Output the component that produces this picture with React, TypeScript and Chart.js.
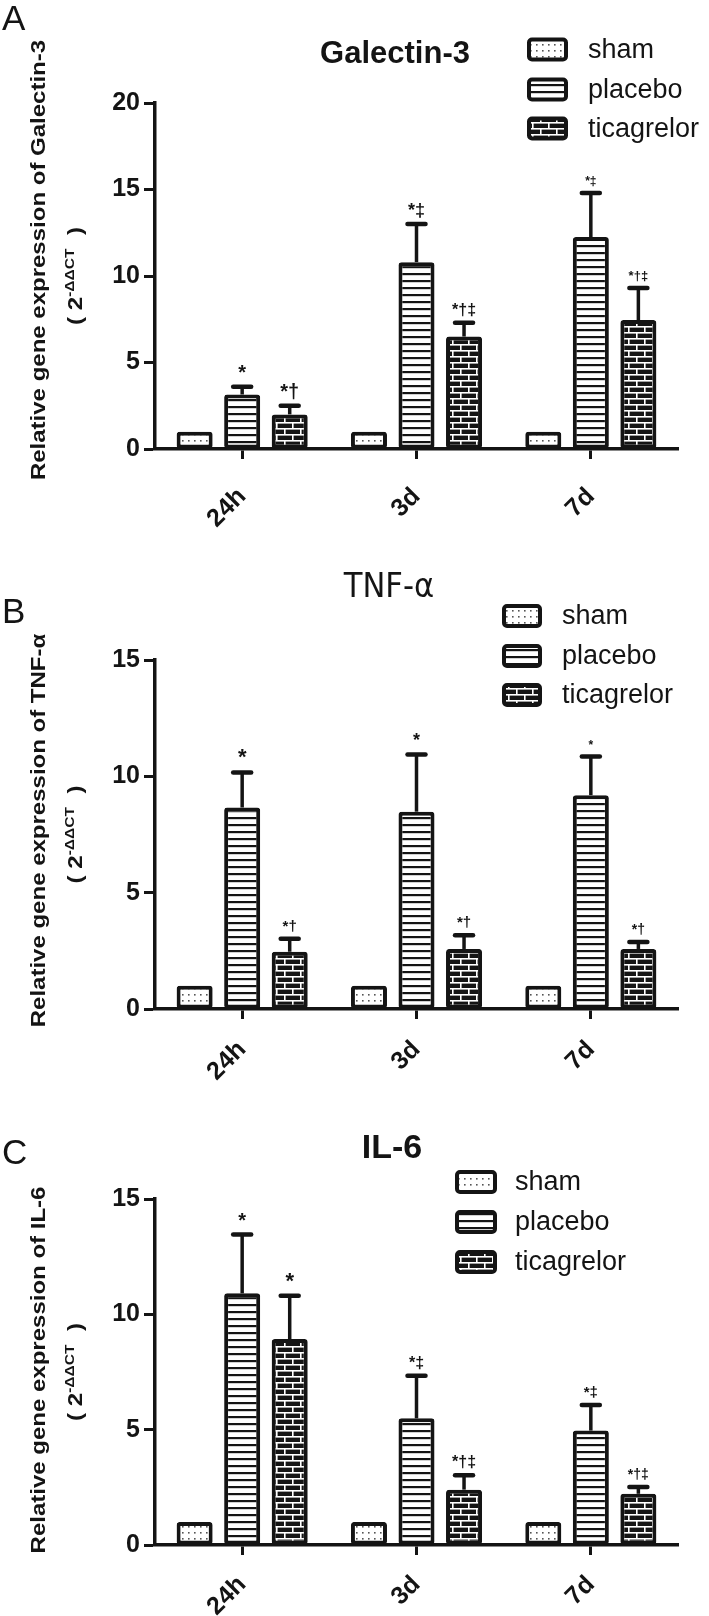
import React, { useEffect, useRef } from 'react';
import { Chart, registerables } from 'chart.js';

Chart.register(...registerables);

const FONT = '"Liberation Sans", Arial, Helvetica, sans-serif';
const NARROW = '"Liberation Sans Narrow", "Arial Narrow", "DejaVu Sans Condensed", "Liberation Sans", sans-serif';
const INK = '#141414';

// ---------- data ----------
const categories = ['24h', '3d', '7d'];
const seriesNames = ['sham', 'placebo', 'ticagrelor'];

// Galectin-3
const galectinSham = [1, 1, 1];
const galectinPlacebo = [3.15, 10.8, 12.25];
const galectinTicagrelor = [2.0, 6.5, 7.45];
const galectinPlaceboErr = [0.45, 2.2, 2.55];
const galectinTicagrelorErr = [0.5, 0.8, 1.85];
const galectinPlaceboMarks = ['*', '*‡', '*‡'];
const galectinTicagrelorMarks = ['*†', '*†‡', '*†‡'];

// TNF-α
const tnfSham = [1, 1, 1];
const tnfPlacebo = [8.66, 8.48, 9.19];
const tnfTicagrelor = [2.46, 2.58, 2.58];
const tnfPlaceboErr = [1.51, 2.46, 1.66];
const tnfTicagrelorErr = [0.56, 0.59, 0.3];
const tnfPlaceboMarks = ['*', '*', '*'];
const tnfTicagrelorMarks = ['*†', '*†', '*†'];

// IL-6
const il6Sham = [1, 1, 1];
const il6Placebo = [10.91, 5.49, 4.96];
const il6Ticagrelor = [8.93, 2.4, 2.22];
const il6PlaceboErr = [2.55, 1.85, 1.11];
const il6TicagrelorErr = [1.88, 0.62, 0.29];
const il6PlaceboMarks = ['*', '*‡', '*‡'];
const il6TicagrelorMarks = ['*', '*†‡', '*†‡'];

const galectinTicks = [0, 5, 10, 15, 20];
const cytokineTicks = [0, 5, 10, 15];

// ---------- panel layout / style ----------
const panels = [
  {
    top: 0, height: 540, padTop: 103, plotBottom: 449,
    ticks: galectinTicks,
    letter: 'A', letterBaseline: 30,
    title: 'Galectin-3', titleFont: `bold 31px ${FONT}`, titleX: 395, titleBaseline: 63,
    legendX: 527, legendW: 41, legendTextX: 588, legendRows: [49.5, 89.5, 128.5],
    yTitle: 'Relative gene expression of Galectin-3', yTitleShift: -16,
    labelPad: 23,
    series: [galectinSham, galectinPlacebo, galectinTicagrelor],
    errors: [null, galectinPlaceboErr, galectinTicagrelorErr],
    marks: [null, galectinPlaceboMarks, galectinTicagrelorMarks],
    markSizes: [null, [20, 18, 12], [20, 16, 13]],
  },
  {
    top: 530, height: 575, padTop: 130, plotBottom: 479,
    ticks: cytokineTicks,
    letter: 'B', letterBaseline: 93,
    title: 'TNF-α', titleFont: `34px ${NARROW}`, titleX: 389, titleBaseline: 67,
    legendX: 502, legendW: 40, legendTextX: 562, legendRows: [86, 126, 165],
    yTitle: 'Relative gene expression of TNF-α', yTitleShift: -4,
    labelPad: 16,
    series: [tnfSham, tnfPlacebo, tnfTicagrelor],
    errors: [null, tnfPlaceboErr, tnfTicagrelorErr],
    marks: [null, tnfPlaceboMarks, tnfTicagrelorMarks],
    markSizes: [null, [22, 18, 12], [15, 15, 14]],
  },
  {
    top: 1080, height: 536, padTop: 119, plotBottom: 465,
    ticks: cytokineTicks,
    letter: 'C', letterBaseline: 84,
    title: 'IL-6', titleFont: `bold 34px ${FONT}`, titleX: 392, titleBaseline: 78,
    legendX: 455, legendW: 42, legendTextX: 515, legendRows: [102, 142, 182],
    yTitle: 'Relative gene expression of IL-6', yTitleShift: -2,
    labelPad: 15,
    series: [il6Sham, il6Placebo, il6Ticagrelor],
    errors: [null, il6PlaceboErr, il6TicagrelorErr],
    marks: [null, il6PlaceboMarks, il6TicagrelorMarks],
    markSizes: [null, [20, 16, 15], [22, 16, 14]],
  },
];

// ---------- fill patterns ----------
function makePattern(kind: string): CanvasPattern | string {
  const c = document.createElement('canvas');
  const g = c.getContext('2d');
  if (!g) return '#fff';
  if (kind === 'dots') {
    c.width = 6; c.height = 6;
    g.fillStyle = '#fff'; g.fillRect(0, 0, 6, 6);
    g.fillStyle = '#555'; g.fillRect(2, 2, 1.6, 1.6);
  } else if (kind === 'stripes') {
    c.width = 8; c.height = 7;
    g.fillStyle = '#fff'; g.fillRect(0, 0, 8, 7);
    g.fillStyle = INK; g.fillRect(0, 0, 8, 2.2);
  } else {
    c.width = 16; c.height = 12;
    g.fillStyle = INK; g.fillRect(0, 0, 16, 12);
    g.fillStyle = '#fff';
    g.fillRect(0, 2, 16, 1.6);
    g.fillRect(0, 8, 16, 1.6);
    g.fillRect(4, 2, 1.6, 6);
    g.fillRect(12, 8, 1.6, 6);
    g.fillRect(12, 0, 1.6, 2);
  }
  return g.createPattern(c, 'repeat') || '#fff';
}

function Panel({ cfg }: { cfg: any }) {
  const ref = useRef<HTMLCanvasElement | null>(null);
  useEffect(() => {
    const canvas = ref.current;
    if (!canvas) return;
    const fills = [makePattern('dots'), makePattern('stripes'), makePattern('bricks')];

    const decor = {
      id: 'decor',
      afterDatasetsDraw(chart: any) {
        const ctx = chart.ctx as CanvasRenderingContext2D;
        const y = chart.scales.y;
        ctx.save();
        ctx.strokeStyle = INK;
        ctx.fillStyle = INK;
        for (let d = 1; d < 3; d++) {
          const meta = chart.getDatasetMeta(d);
          meta.data.forEach((el: any, i: number) => {
            const v = cfg.series[d][i];
            const e = cfg.errors[d][i];
            const yTop = y.getPixelForValue(v + e);
            ctx.lineCap = 'butt';
            ctx.lineWidth = 3.5;
            ctx.beginPath();
            ctx.moveTo(el.x, el.y);
            ctx.lineTo(el.x, yTop);
            ctx.stroke();
            ctx.lineCap = 'round';
            ctx.lineWidth = 4.5;
            ctx.beginPath();
            ctx.moveTo(el.x - 9, yTop);
            ctx.lineTo(el.x + 9, yTop);
            ctx.stroke();
            const size = cfg.markSizes[d][i];
            ctx.font = `bold ${size}px ${FONT}`;
            ctx.textAlign = 'center';
            ctx.textBaseline = 'alphabetic';
            ctx.fillText(cfg.marks[d][i], el.x, yTop - 8);
          });
        }
        ctx.restore();
      },
      afterDraw(chart: any) {
        const ctx = chart.ctx as CanvasRenderingContext2D;
        const area = chart.chartArea;
        ctx.save();
        ctx.fillStyle = INK;
        // panel letter
        ctx.font = `35px ${FONT}`;
        ctx.textAlign = 'left';
        ctx.textBaseline = 'alphabetic';
        ctx.fillText(cfg.letter, 2, cfg.letterBaseline);
        // title
        ctx.font = cfg.titleFont;
        ctx.textAlign = 'center';
        ctx.fillText(cfg.title, cfg.titleX, cfg.titleBaseline);
        // legend
        seriesNames.forEach((name, i) => {
          const cy = cfg.legendRows[i];
          const x = cfg.legendX;
          const w = cfg.legendW;
          const h = 24;
          ctx.fillStyle = fills[i] as any;
          ctx.beginPath();
          (ctx as any).roundRect(x + 2, cy - h / 2 + 2, w - 4, h - 4, 3);
          ctx.fill();
          ctx.lineWidth = 4;
          ctx.strokeStyle = INK;
          ctx.stroke();
          ctx.fillStyle = INK;
          ctx.font = `27px ${FONT}`;
          ctx.textAlign = 'left';
          ctx.textBaseline = 'middle';
          ctx.fillText(name, cfg.legendTextX, cy + 1);
        });
        // y-axis title (two lines, rotated)
        const cy = (area.top + area.bottom) / 2;
        ctx.textBaseline = 'alphabetic';
        ctx.save();
        ctx.translate(45, cy + cfg.yTitleShift);
        ctx.rotate(-Math.PI / 2);
        ctx.scale(1.2, 1);
        ctx.font = `bold 20px ${FONT}`;
        ctx.textAlign = 'center';
        ctx.fillText(cfg.yTitle, 0, 0);
        ctx.restore();

        ctx.save();
        ctx.translate(82, cy);
        ctx.rotate(-Math.PI / 2);
        ctx.scale(1.2, 1);
        ctx.textAlign = 'left';
        const big = `bold 20px ${FONT}`;
        const small = `bold 13px ${FONT}`;
        const parts: [string, string, number][] = [
          ['( 2', big, 0],
          ['-ΔΔCT', small, -8],
          ['  )', big, 0],
        ];
        let total = 0;
        parts.forEach(([t, f]) => { ctx.font = f; total += ctx.measureText(t).width; });
        let px = -total / 2;
        parts.forEach(([t, f, dy]) => {
          ctx.font = f;
          ctx.fillText(t, px, dy);
          px += ctx.measureText(t).width;
        });
        ctx.restore();
        ctx.restore();
      },
    };

    const xHeight = cfg.height - cfg.plotBottom;
    const chart = new Chart(canvas, {
      type: 'bar',
      data: {
        labels: categories,
        datasets: seriesNames.map((name, i) => ({
          label: name,
          data: cfg.series[i],
          backgroundColor: fills[i] as any,
          borderColor: INK,
          borderWidth: 4,
          borderSkipped: false,
          borderRadius: 3,
          categoryPercentage: 0.818,
          barPercentage: 0.758,
        })),
      },
      options: {
        animation: false,
        responsive: false,
        maintainAspectRatio: false,
        events: [],
        layout: { padding: { left: 0, right: 31, top: cfg.padTop, bottom: 0 } },
        plugins: {
          legend: { display: false },
          title: { display: false },
          tooltip: { enabled: false },
        },
        scales: {
          x: {
            grid: {
              display: true, drawOnChartArea: false, drawTicks: true,
              tickLength: 10, tickWidth: 3, tickColor: INK, offset: false,
            },
            border: { display: true, width: 3.5, color: INK },
            ticks: {
              color: INK, font: { family: FONT, size: 25, weight: 'bold' },
              maxRotation: 45, minRotation: 45, padding: cfg.labelPad,
            },
            afterFit: (s: any) => { s.height = xHeight; },
          },
          y: {
            min: 0,
            max: cfg.ticks[cfg.ticks.length - 1],
            afterBuildTicks: (s: any) => { s.ticks = cfg.ticks.map((v: number) => ({ value: v })); },
            grid: {
              display: true, drawOnChartArea: false, drawTicks: true,
              tickLength: 11, tickWidth: 3, tickColor: INK,
            },
            border: { display: true, width: 3.5, color: INK },
            ticks: {
              color: INK, font: { family: FONT, size: 25, weight: 'bold' }, padding: 4,
            },
            afterFit: (s: any) => { s.width = 155; },
          },
        },
      } as any,
      plugins: [decor],
    });
    return () => chart.destroy();
  }, [cfg]);
  return (
    <canvas
      ref={ref}
      width={709}
      height={cfg.height}
      style={{ position: 'absolute', left: 0, top: cfg.top, display: 'block' }}
    />
  );
}

export default function App() {
  return (
    <div style={{ position: 'absolute', left: 0, top: 0, width: 709, height: 1616, background: '#fff' }}>
      {panels.map((p, i) => (
        <Panel key={i} cfg={p} />
      ))}
    </div>
  );
}
